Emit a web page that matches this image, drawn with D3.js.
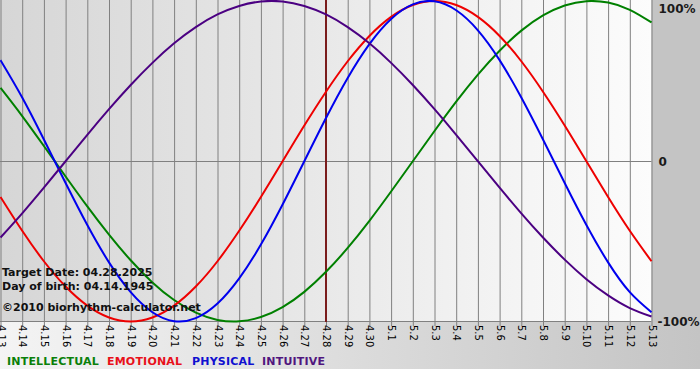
<!DOCTYPE html>
<html>
<head>
<meta charset="utf-8">
<script src="https://cdn.jsdelivr.net/npm/d3@7"></script>
<style>
  html, body { margin: 0; padding: 0; background: #ffffff; }
  svg { display: block; }
  text { font-family: "DejaVu Sans", Verdana, sans-serif; }
</style>
</head>
<body>
<svg id="chart" width="700" height="380"></svg>
<script>
const dayLabels = ["4.13","4.14","4.15","4.16","4.17","4.18","4.19","4.20","4.21","4.22","4.23","4.24","4.25","4.26","4.27","4.28","4.29","4.30","5.1","5.2","5.3","5.4","5.5","5.6","5.7","5.8","5.9","5.10","5.11","5.12","5.13"];

const intellectual = [0.458,0.282,0.095,-0.095,-0.282,-0.458,-0.618,-0.756,-0.866,-0.945,-0.990,-0.999,-0.972,-0.910,-0.815,-0.690,-0.541,-0.372,-0.189,0.000,0.189,0.372,0.541,0.690,0.815,0.910,0.972,0.999,0.990,0.945,0.866];
const emotional = [-0.223,-0.434,-0.624,-0.782,-0.901,-0.975,-1.000,-0.975,-0.901,-0.782,-0.624,-0.434,-0.223,0.000,0.223,0.434,0.624,0.782,0.901,0.975,1.000,0.975,0.901,0.782,0.624,0.434,0.223,0.000,-0.223,-0.434,-0.624];
const physical = [0.631,0.398,0.136,-0.136,-0.398,-0.631,-0.817,-0.942,-0.998,-0.979,-0.888,-0.731,-0.520,-0.270,0.000,0.270,0.520,0.731,0.888,0.979,0.998,0.942,0.817,0.631,0.398,0.136,-0.136,-0.398,-0.631,-0.817,-0.942];
const intuitive = [-0.476,-0.325,-0.165,0.000,0.165,0.325,0.476,0.614,0.736,0.837,0.916,0.969,0.997,0.997,0.969,0.916,0.837,0.736,0.614,0.476,0.325,0.165,0.000,-0.165,-0.325,-0.476,-0.614,-0.736,-0.837,-0.916,-0.969];

const seriesNames = ["INTELLECTUAL","EMOTIONAL","PHYSICAL","INTUITIVE"];
const seriesColors = ["#008000","#ee0000","#0000ee","#4b0082"];
const legendColors = ["#0a800a","#e8101a","#1010d0","#50167e"];
const yTickValues = [1, 0, -1];
const yTickLabels = ["100%", "0", "-100%"];
const targetIndex = 15;
const infoLines = ["Target Date: 04.28.2025", "Day of birth: 04.14.1945", "\u00A92010 biorhythm-calculator.net"];

const svg = d3.select("#chart");
const W = 700, imgH = 369;
const plotLeft = 0.5, plotRight = 651.5, plotTop = 0, plotBottom = 322;

const x = d3.scaleLinear().domain([0, dayLabels.length - 1]).range([plotLeft, plotRight]);
const y = d3.scaleLinear().domain([-1, 1]).range([321.5, 1]);

const defs = svg.append("defs");
const g1 = defs.append("linearGradient").attr("id", "plotGrad").attr("x1", "0").attr("x2", "1").attr("y1", "0").attr("y2", "0");
g1.append("stop").attr("offset", "0").attr("stop-color", "#d6d6d6");
g1.append("stop").attr("offset", "1").attr("stop-color", "#fcfcfc");
const g2 = defs.append("linearGradient").attr("id", "botGrad").attr("x1", "0").attr("x2", "1").attr("y1", "0").attr("y2", "0");
g2.append("stop").attr("offset", "0").attr("stop-color", "#f4f4f4");
g2.append("stop").attr("offset", "1").attr("stop-color", "#c4c4c4");

// backgrounds
svg.append("rect").attr("x", 0).attr("y", 0).attr("width", W).attr("height", imgH).attr("fill", "#c4c4c4");
svg.append("rect").attr("x", 0).attr("y", plotBottom).attr("width", W).attr("height", imgH - plotBottom).attr("fill", "url(#botGrad)");
svg.append("rect").attr("x", 0).attr("y", plotTop).attr("width", plotRight).attr("height", plotBottom - plotTop).attr("fill", "url(#plotGrad)");

// vertical grid + tick marks
const xAxis = d3.axisBottom(x)
  .tickValues(d3.range(dayLabels.length))
  .tickFormat(i => dayLabels[i])
  .tickSize(plotBottom + 4)
  .tickPadding(4);
const gx = svg.append("g").call(xAxis);
gx.select(".domain").remove();
gx.selectAll(".tick line").attr("stroke", "#808080").attr("stroke-width", 1);
gx.selectAll(".tick text")
  .attr("fill", "#000")
  .style("font-size", "10px")
  .attr("text-anchor", "start")
  .attr("transform", "translate(0," + (plotBottom + 3) + ") rotate(90)")
  .attr("x", 0)
  .attr("y", 0)
  .attr("dy", "0.35em");

// horizontal lines (zero and bottom)
svg.append("line").attr("x1", 0).attr("x2", plotRight).attr("y1", Math.round(y(0)) + 0.5).attr("y2", Math.round(y(0)) + 0.5)
  .attr("stroke", "#808080").attr("stroke-width", 1);
svg.append("line").attr("x1", 0).attr("x2", plotRight).attr("y1", plotBottom - 0.5).attr("y2", plotBottom - 0.5)
  .attr("stroke", "#808080").attr("stroke-width", 1);

// right labels
const yAxis = d3.axisRight(y).tickValues(yTickValues).tickFormat((d, i) => yTickLabels[i]).tickSize(0).tickPadding(6);
const gy = svg.append("g").attr("transform", "translate(" + plotRight + ",0)").call(yAxis);
gy.select(".domain").remove();
gy.selectAll(".tick text").attr("fill", "#1a1a1a").style("font-size", "12px").style("font-weight", "bold");
gy.selectAll(".tick").filter(d => d === 1).select("text").attr("dy", "0.95em").attr("x", 7);
gy.selectAll(".tick").filter(d => d === 0).select("text").attr("x", 7);

// target marker
svg.append("line").attr("x1", x(targetIndex)).attr("x2", x(targetIndex)).attr("y1", 0).attr("y2", plotBottom)
  .attr("stroke", "#7a1c1c").attr("stroke-width", 2);

// curves
const allSeries = [intellectual, emotional, physical, intuitive];
const line = d3.line().x((d, i) => x(i)).y(d => y(d)).curve(d3.curveNatural);
svg.append("g").selectAll("path").data(allSeries).join("path")
  .attr("d", d => line(d))
  .attr("fill", "none")
  .attr("stroke", (d, i) => seriesColors[i])
  .attr("stroke-width", 2);

// info text
const infoY = [276, 290, 311];
svg.append("g").selectAll("text").data(infoLines).join("text")
  .attr("x", 2).attr("y", (d, i) => infoY[i])
  .attr("fill", "#111")
  .style("font-size", "11px").style("font-weight", "bold")
  .text(d => d);

// legend
const legendX = [7, 107, 192, 262];
svg.append("g").selectAll("text").data(seriesNames).join("text")
  .attr("x", (d, i) => legendX[i]).attr("y", 365)
  .attr("fill", (d, i) => legendColors[i])
  .style("font-size", "11px").style("font-weight", "bold")
  .style("letter-spacing", "0.2px")
  .text(d => d);
</script>
</body>
</html>
